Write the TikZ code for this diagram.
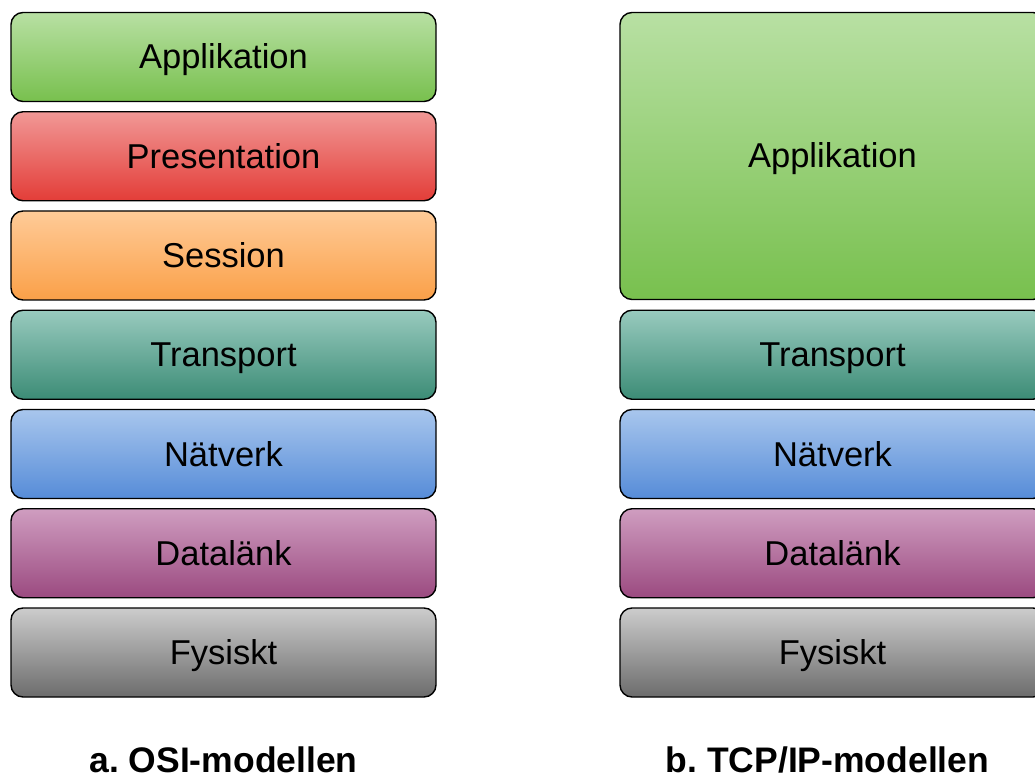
\documentclass[tikz,border=0pt]{standalone}
\usepackage{fontspec}
\setmainfont{Liberation Sans}
\frenchspacing

% layer colours: light top, saturated bottom
\definecolor{appTop}{RGB}{184,224,163}
\definecolor{appBot}{RGB}{120,192,78}
\definecolor{preTop}{RGB}{241,152,150}
\definecolor{preBot}{RGB}{227,61,56}
\definecolor{sesTop}{RGB}{255,203,152}
\definecolor{sesBot}{RGB}{250,160,72}
\definecolor{traTop}{RGB}{152,202,190}
\definecolor{traBot}{RGB}{60,140,118}
\definecolor{netTop}{RGB}{168,198,237}
\definecolor{netBot}{RGB}{86,140,216}
\definecolor{datTop}{RGB}{207,157,192}
\definecolor{datBot}{RGB}{155,74,128}
\definecolor{fysTop}{RGB}{204,204,204}
\definecolor{fysBot}{RGB}{108,108,108}

\begin{document}
\begin{tikzpicture}[x=1pt,y=-1pt,
  layer/.style={draw=black, line width=1.4pt, rounded corners=12pt,
    minimum width=425pt, minimum height=89pt, inner sep=0pt,
    text height=24pt, text depth=0pt,
    font=\fontsize{34.5}{40}\selectfont, text=black},
  app/.style={layer, top color=appTop, bottom color=appBot},
  pre/.style={layer, top color=preTop, bottom color=preBot},
  ses/.style={layer, top color=sesTop, bottom color=sesBot},
  tra/.style={layer, top color=traTop, bottom color=traBot},
  net/.style={layer, top color=netTop, bottom color=netBot},
  dat/.style={layer, top color=datTop, bottom color=datBot},
  fys/.style={layer, top color=fysTop, bottom color=fysBot},
  caption/.style={anchor=base, inner sep=0pt,
    font=\fontsize{35.5}{40}\selectfont\bfseries, text=black}]
\useasboundingbox (0,0) rectangle (1035,775);
\clip (0,0) rectangle (1035,775);

% OSI model (left column)
\node[app] (osiApp) at (223.5,57)     {Applikation};
\node[pre] (osiPre) at (223.5,156.25) {Presentation};
\node[ses] (osiSes) at (223.5,255.5)  {Session};
\node[tra] (osiTra) at (223.5,354.75) {Transport};
\node[net] (osiNet) at (223.5,454)    {Nätverk};
\node[dat] (osiDat) at (223.5,553.25) {Datalänk};
\node[fys] (osiFys) at (223.5,652.5)  {Fysiskt};

% TCP/IP model (right column)
\node[app, minimum height=287pt] (tcpApp) at (832.5,156) {Applikation};
\node[tra] (tcpTra) at (832.5,354.75) {Transport};
\node[net] (tcpNet) at (832.5,454)    {Nätverk};
\node[dat] (tcpDat) at (832.5,553.25) {Datalänk};
\node[fys] (tcpFys) at (832.5,652.5)  {Fysiskt};

% captions
\node[caption] (osiCap) at (223.5,772.5) {a. OSI-modellen};
\node[caption] (tcpCap) at (827.5,772.5) {b. TCP/IP-modellen};
\end{tikzpicture}
\end{document}
